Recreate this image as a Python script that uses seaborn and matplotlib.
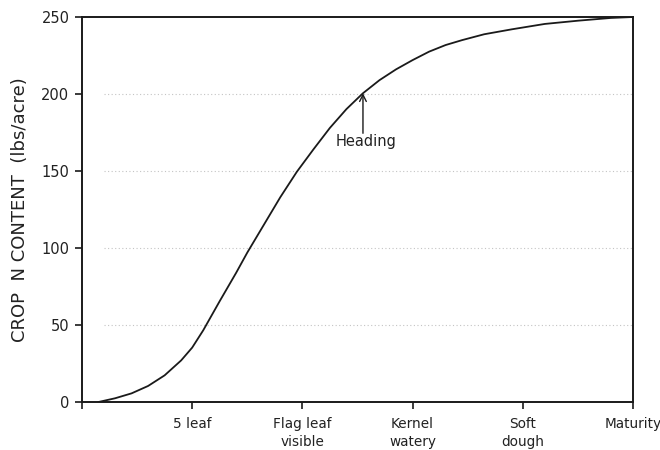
import matplotlib
matplotlib.use("Agg")
import matplotlib.pyplot as plt
import seaborn as sns
import pandas as pd

# Growth stage (0 = emergence ... 5 = maturity) and crop N content (lbs/acre)
stage = [0.15, 0.3, 0.45, 0.6, 0.75, 0.9, 1.0, 1.1, 1.25, 1.4, 1.5, 1.65, 1.8, 1.95, 2.1,
         2.25, 2.4, 2.55, 2.7, 2.85, 3.0, 3.15, 3.3, 3.45, 3.65, 3.9, 4.2, 4.5, 4.8, 5.0]
n_content = [0, 2.4, 5.6, 10.4, 17.3, 27, 35.3, 46.5, 65.5, 84, 97, 115, 133, 149.5, 164,
             178, 190.2, 200.5, 209, 216, 222, 227.5, 231.8, 235, 238.8, 242, 245.5,
             247.6, 249.4, 250]

tick_pos = [0, 1, 2, 3, 4, 5]
tick_labels = ["", "5 leaf", "Flag leaf\nvisible", "Kernel\nwatery", "Soft\ndough", "Maturity"]
y_ticks = [0, 50, 100, 150, 200, 250]
grid_levels = [50, 100, 150, 200]
heading_stage = 2.55
heading_value = 200.5

sns.set_theme(style="white")
plt.rcParams['font.family'] = ['DejaVu Sans']

fig = plt.figure(figsize=(6.6, 4.5), dpi=100)
ax = fig.add_axes([0.1242, 0.1067, 0.8348, 0.8555])

df = pd.DataFrame({"stage": stage, "n": n_content})

for lv in grid_levels:
    ax.hlines(lv, 0.2, 5.0, colors="#c4c4c4", linestyles=(0, (1, 2.2)), linewidth=0.8, zorder=1)

sns.lineplot(data=df, x="stage", y="n", color="#1a1a1a", linewidth=1.3, ax=ax, zorder=3)

ax.annotate("", xy=(heading_stage, heading_value), xytext=(heading_stage, 174.5),
            arrowprops=dict(arrowstyle="->", color="#1a1a1a", lw=1.0,
                            shrinkA=0, shrinkB=0, mutation_scale=12))
ax.text(heading_stage + 0.03, 169, "Heading", ha="center", va="center",
        fontsize=10.5, color="#222222")

ax.set_xlim(0, 5)
ax.set_ylim(0, 250)
ax.set_xticks(tick_pos)
ax.set_xticklabels(tick_labels, fontsize=9.8, color="#222222", linespacing=1.3)
ax.set_yticks(y_ticks)
ax.set_yticklabels([str(v) for v in y_ticks], fontsize=10.5, color="#222222")
ax.tick_params(axis="both", which="both", direction="out", length=5, width=1.2,
               color="#1a1a1a", bottom=True, left=True)
ax.tick_params(axis="x", pad=6)
ax.tick_params(axis="y", pad=4)

for s in ax.spines.values():
    s.set_visible(True)
    s.set_color("#1a1a1a")
    s.set_linewidth(1.4)

ax.set_xlabel("")
ax.set_ylabel("CROP  N CONTENT  (lbs/acre)", fontsize=13, color="#222222", labelpad=9)
ax.grid(False)

fig.savefig("out.png", dpi=100)
